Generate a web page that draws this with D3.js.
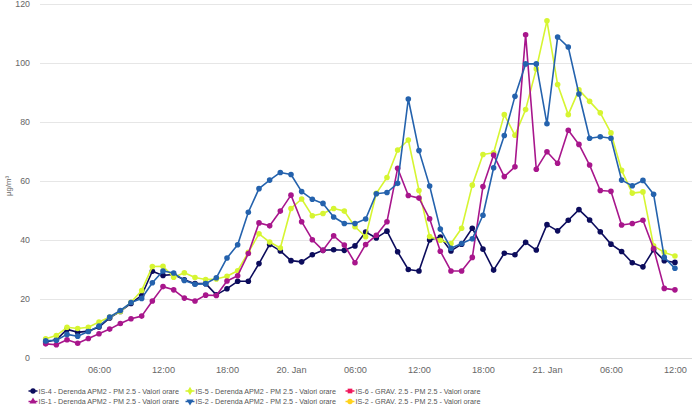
<!DOCTYPE html>
<html lang="it">
<head>
<meta charset="utf-8">
<script src="https://d3js.org/d3.v7.min.js"></script>
<style>
  body { margin: 0; background: #fff; }
  text { font-family: "Liberation Sans", Arial, sans-serif; }
</style>
</head>
<body>
<div id="chart"></div>
<script>
// hourly readings from 19 Jan 01:00 to 21 Jan 12:00
const firstHour = new Date(2020, 0, 19, 1);
const lastHour  = new Date(2020, 0, 21, 12);
const hours = d3.timeHour.range(firstHour, d3.timeHour.offset(lastHour, 1));

// visible x window of the plot
const xStart = new Date(2020, 0, 19, 0, 28);
const xEnd   = new Date(2020, 0, 21, 13, 36);

const yTicks = [0, 20, 40, 60, 80, 100, 120];

const seriesNames = [
  "IS-4 - Derenda APM2 - PM 2.5 - Valori orare",
  "IS-5 - Derenda APM2 - PM 2.5 - Valori orare",
  "IS-6 - GRAV. 2.5 - PM 2.5 - Valori orare",
  "IS-1 - Derenda APM2 - PM 2.5 - Valori orare",
  "IS-2 - Derenda APM2 - PM 2.5 - Valori orare",
  "IS-2 - GRAV. 2.5 - PM 2.5 - Valori orare"
];

const is4Derenda = [5.4, 6.2, 9.7, 8.7, 9.1, 10.5, 13.6, 15.8, 18.5, 21.2,
  29.4, 28.0, 28.3, 26.5, 25.2, 25.2, 21.4, 23.5, 26.0, 26.0,
  32.0, 38.5, 36.3, 33.0, 32.6, 35.0, 36.5, 36.7, 36.5, 38.0,
  42.7, 40.7, 43.0, 36.0, 30.0, 29.5, 40.0, 41.0, 36.3, 38.6,
  44.0, 36.9, 29.8, 35.5, 35.0, 39.2, 36.6, 45.2, 43.1, 46.7,
  50.3, 46.8, 42.8, 38.6, 36.1, 32.3, 30.9, 36.7, 33.0, 32.4];

const is5Derenda = [6.5, 7.6, 10.4, 10.0, 10.4, 12.2, 13.9, 15.8, 18.9, 22.9,
  31.0, 31.1, 27.4, 28.9, 27.3, 26.6, 26.8, 27.7, 29.6, 35.8,
  42.1, 39.3, 37.3, 50.7, 53.9, 48.2, 49.0, 50.7, 49.8, 44.5,
  41.1, 55.8, 61.2, 70.5, 73.9, 56.8, 41.2, 39.9, 38.8, 44.0,
  58.6, 69.0, 69.6, 82.5, 75.5, 84.2, 98.0, 114.3, 92.7, 82.5,
  90.9, 87.0, 83.1, 76.3, 63.6, 55.9, 56.3, 38.0, 35.8, 34.6];

const is6Grav = [];

const is1Derenda = [4.8, 4.5, 6.2, 5.0, 6.6, 8.2, 9.8, 11.7, 13.3, 14.2,
  19.3, 24.2, 23.1, 20.3, 19.3, 21.3, 21.2, 26.1, 27.9, 35.4,
  45.8, 44.8, 49.8, 55.2, 46.2, 40.1, 36.5, 41.4, 38.3, 32.3,
  38.5, 41.6, 46.2, 64.3, 55.1, 54.2, 47.2, 36.2, 29.5, 29.5,
  34.1, 58.1, 68.8, 61.5, 64.8, 109.6, 64.0, 69.9, 66.0, 77.2,
  72.4, 65.4, 56.8, 56.5, 45.1, 45.6, 46.7, 37.1, 23.6, 23.1];

const is2Derenda = [5.8, 6.0, 8.0, 7.4, 9.0, 10.8, 13.9, 16.1, 18.8, 20.2,
  25.5, 29.5, 28.8, 26.3, 25.0, 25.2, 27.2, 33.9, 38.4, 49.4,
  57.4, 60.3, 62.9, 62.2, 56.4, 53.8, 52.4, 47.8, 45.6, 45.6,
  47.1, 55.7, 56.1, 59.2, 87.8, 70.3, 58.3, 43.7, 37.2, 38.8,
  40.4, 48.4, 64.5, 75.4, 88.7, 99.7, 99.7, 79.4, 108.8, 105.4,
  89.5, 74.5, 75.0, 74.5, 60.3, 58.4, 60.2, 55.5, 34.1, 30.4];

const is2Grav = [];

const seriesValues = [is4Derenda, is5Derenda, is6Grav, is1Derenda, is2Derenda, is2Grav];
const seriesColors = ["#0c0c5c", "#d6f531", "#f0185c", "#a8168c", "#2462ad", "#ffd21c"];
const seriesSymbols = [d3.symbolCircle, d3.symbolDiamond, d3.symbolSquare,
                       d3.symbolTriangle, d3.symbolTriangle, d3.symbolCircle];

function drawChart() {
  const svgWidth = 700, svgHeight = 420;
  const svg = d3.select("#chart").html(null)
    .append("svg")
    .attr("width", svgWidth)
    .attr("height", svgHeight);

  const x = d3.scaleTime().domain([xStart, xEnd]).range([40, 692]);
  const y = d3.scaleLinear().domain([0, 120]).range([358, 4]);

  // horizontal grid
  svg.append("g")
    .selectAll("line")
    .data(yTicks)
    .enter().append("line")
    .attr("x1", 40).attr("x2", 692)
    .attr("y1", d => y(d) + 0.5).attr("y2", d => y(d) + 0.5)
    .attr("stroke", d => d === 0 ? "#d8d8d8" : "#e6e6e6")
    .attr("stroke-width", 1);

  // y axis labels
  const yAxis = svg.append("g")
    .attr("transform", "translate(40,0)")
    .call(d3.axisLeft(y).tickValues(yTicks).tickSize(0).tickPadding(10));
  yAxis.select(".domain").remove();
  yAxis.selectAll("text")
    .attr("fill", "#666")
    .attr("font-size", "8.8px")
    .attr("font-family", "'Liberation Sans', Arial, sans-serif");

  svg.append("text")
    .attr("transform", "translate(11,186) rotate(-90)")
    .attr("text-anchor", "middle")
    .attr("fill", "#666")
    .attr("font-size", "7.8px")
    .text("µg/m³");

  // x axis
  const fmt = d => (d.getHours() === 0 ? d3.timeFormat("%-d. %b")(d) : d3.timeFormat("%H:%M")(d));
  const xAxis = svg.append("g")
    .attr("transform", "translate(0,358)")
    .call(d3.axisBottom(x).ticks(d3.timeHour.every(6)).tickFormat(fmt).tickSize(0).tickPadding(8));
  xAxis.select(".domain").remove();
  xAxis.selectAll("text")
    .attr("fill", "#666")
    .attr("font-size", "9.2px")
    .attr("font-family", "'Liberation Sans', Arial, sans-serif");

  // lines + markers
  const line = d3.line()
    .x((d, i) => x(hours[i]))
    .y(d => y(d));

  seriesValues.forEach((vals, s) => {
    if (!vals.length) return;
    const g = svg.append("g");
    g.append("path")
      .datum(vals)
      .attr("d", line)
      .attr("fill", "none")
      .attr("stroke", seriesColors[s])
      .attr("stroke-width", 1.6)
      .attr("stroke-linejoin", "round");
    g.selectAll("circle")
      .data(vals)
      .enter().append("circle")
      .attr("cx", (d, i) => x(hours[i]))
      .attr("cy", d => y(d))
      .attr("r", 2.8)
      .attr("fill", seriesColors[s]);
  });

  // legend, 3 columns x 2 rows
  const colX = [33, 190, 350];
  const rowY = [391, 401.5];
  seriesNames.forEach((name, s) => {
    const cx = colX[s % 3], cy = rowY[Math.floor(s / 3)];
    const g = svg.append("g").attr("transform", "translate(" + cx + "," + cy + ")");
    g.append("line")
      .attr("x1", -4.5).attr("x2", 4.5)
      .attr("stroke", seriesColors[s]).attr("stroke-width", 1.5);
    g.append("path")
      .attr("d", d3.symbol().type(seriesSymbols[s]).size(22)())
      .attr("transform", s === 4 ? "rotate(180)" : null)
      .attr("fill", seriesColors[s]);
    g.append("text")
      .attr("x", 5.5)
      .attr("dy", "0.35em")
      .attr("fill", "#555")
      .attr("font-size", "7.2px")
      .text(name);
  });
}

drawChart();
</script>
</body>
</html>
